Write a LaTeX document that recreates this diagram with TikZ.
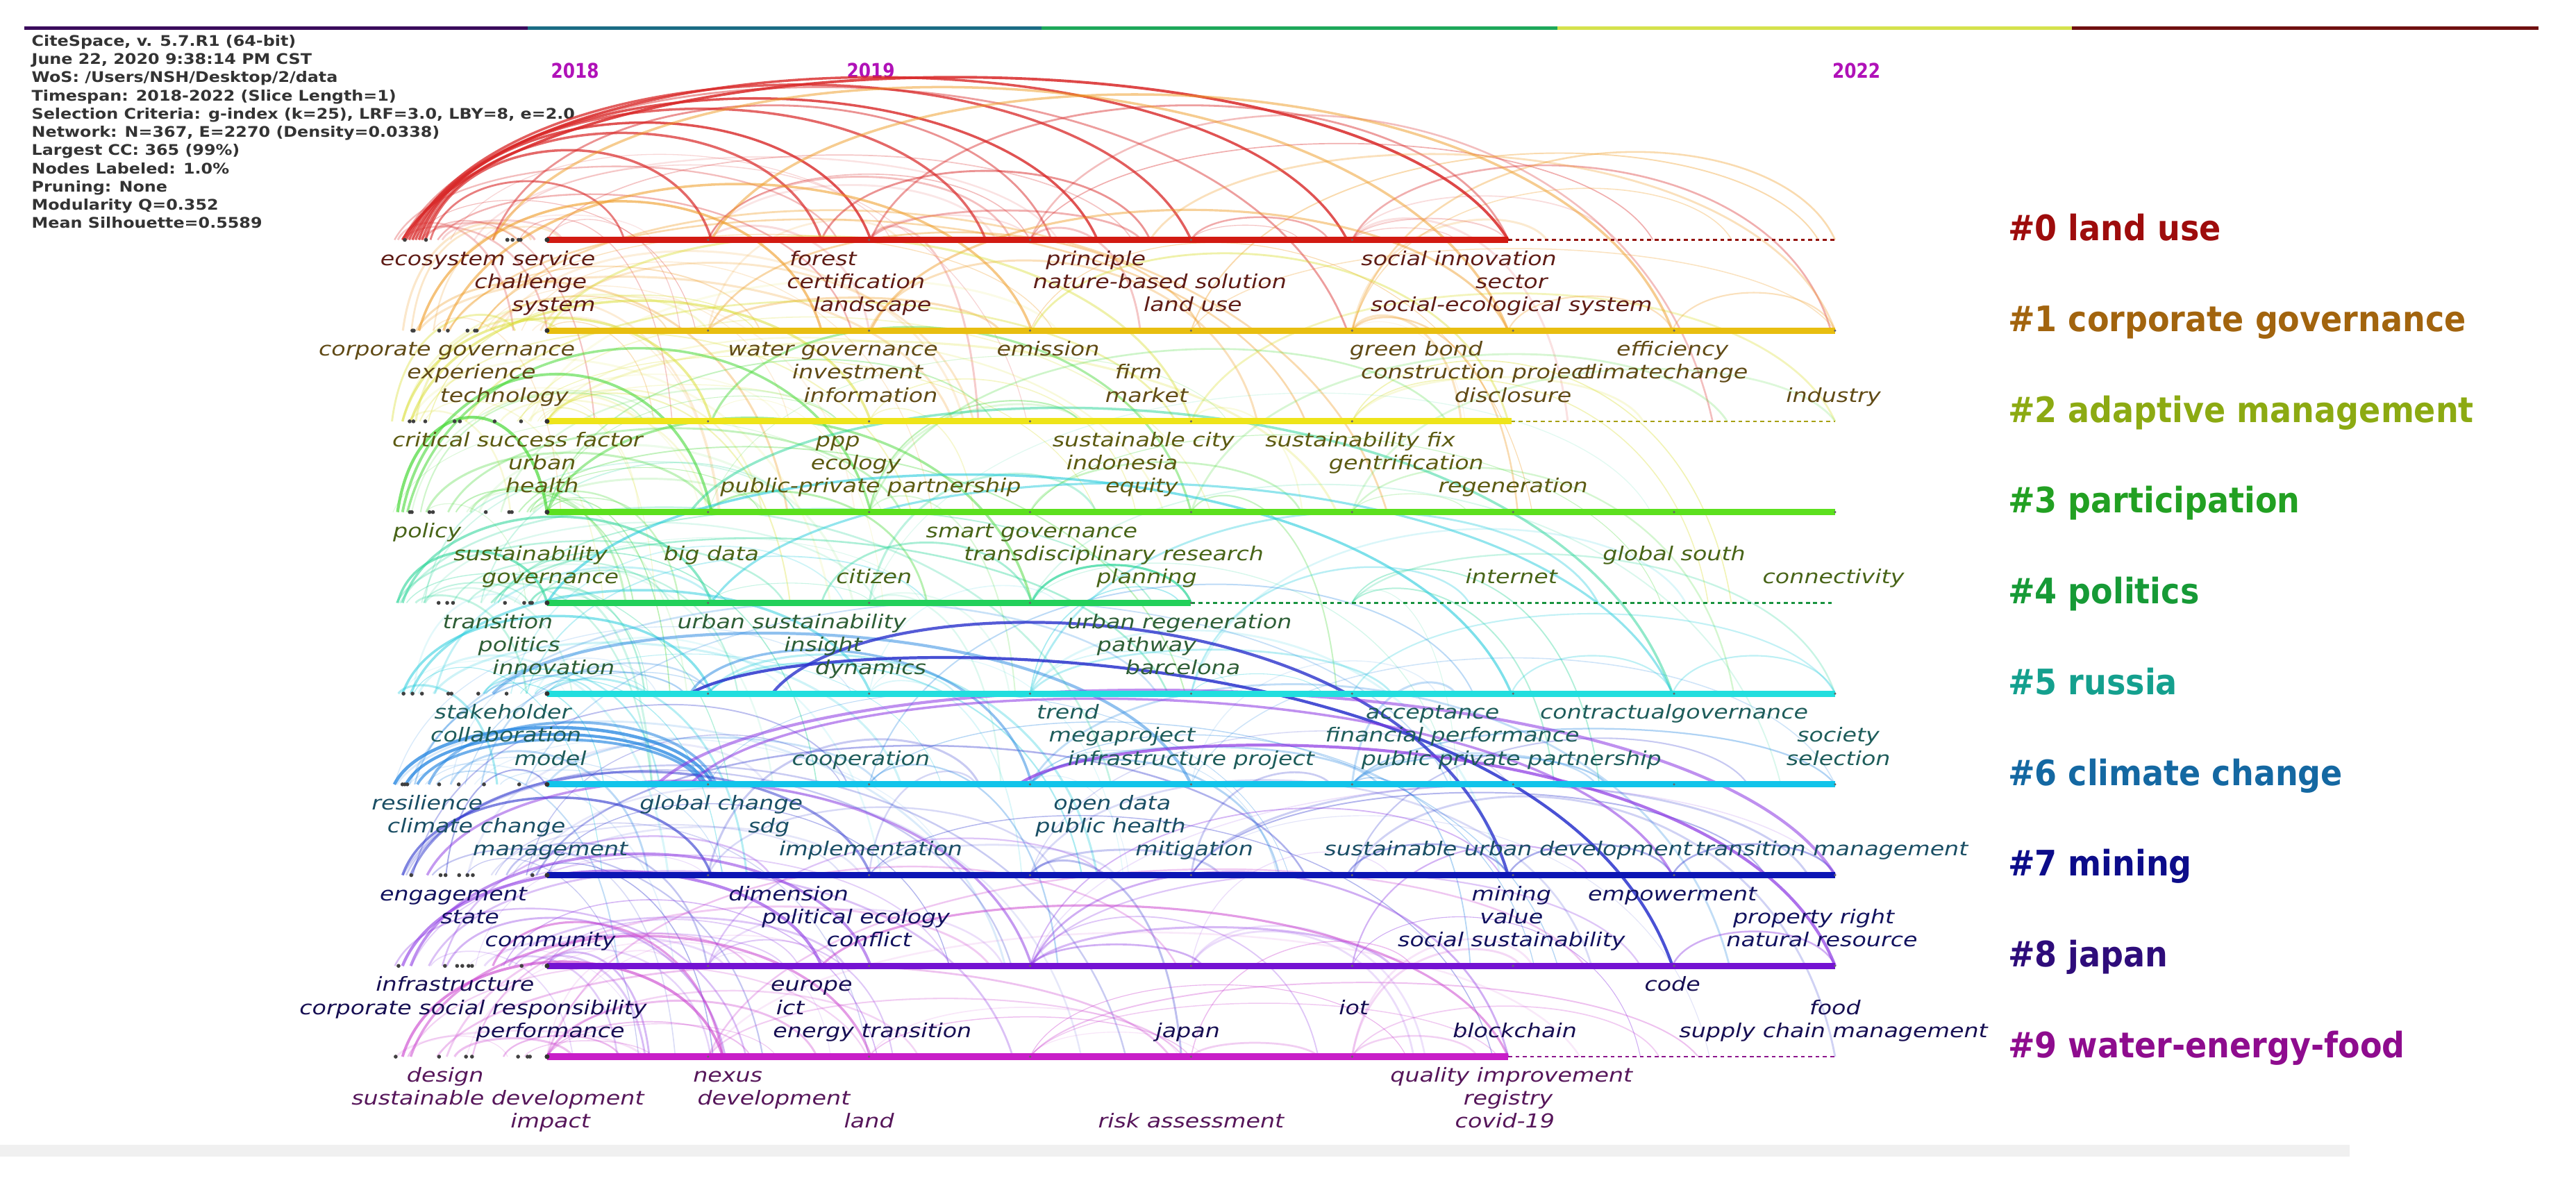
\documentclass[tikz,border=0pt]{standalone}
\usepackage{fontspec}
\setmainfont{DejaVu Sans}
\newfontfamily\lblfont{DejaVu Sans}[FakeStretch=1.2]
\newfontfamily\infofont{DejaVu Sans}[FakeStretch=1.13]
\newfontfamily\yrfont{DejaVu Sans}[FakeStretch=0.85]
\newfontfamily\clfont{DejaVu Sans}[FakeStretch=0.91]
\definecolor{bar1}{HTML}{3A0B5C}
\definecolor{bar2}{HTML}{1B6C85}
\definecolor{bar3}{HTML}{1EA85A}
\definecolor{bar4}{HTML}{D5E24C}
\definecolor{bar5}{HTML}{701010}
\definecolor{yrc}{HTML}{B012B8}
\definecolor{ln0}{HTML}{D21A12}\definecolor{ln1}{HTML}{E8BE10}\definecolor{ln2}{HTML}{EEE41A}
\definecolor{ln3}{HTML}{5CE01E}\definecolor{ln4}{HTML}{22D05A}\definecolor{ln5}{HTML}{22DEDE}
\definecolor{ln6}{HTML}{12C4EA}\definecolor{ln7}{HTML}{0C16B4}\definecolor{ln8}{HTML}{7412D2}
\definecolor{ln9}{HTML}{C81EC8}
\definecolor{arc0}{HTML}{D82828}\definecolor{arc1}{HTML}{EE9A22}\definecolor{arc2}{HTML}{D8DC2A}
\definecolor{arc3}{HTML}{48D838}\definecolor{arc4}{HTML}{26D496}\definecolor{arc5}{HTML}{26CCDC}
\definecolor{arc6}{HTML}{2284E0}\definecolor{arc7}{HTML}{2A32CC}\definecolor{arc8}{HTML}{8A34E2}
\definecolor{arc9}{HTML}{C83ACC}
\definecolor{cl0}{HTML}{9E0C0C}\definecolor{cl1}{HTML}{A2640E}\definecolor{cl2}{HTML}{8CAA12}
\definecolor{cl3}{HTML}{22A022}\definecolor{cl4}{HTML}{169A36}\definecolor{cl5}{HTML}{14A08E}
\definecolor{cl6}{HTML}{1468A2}\definecolor{cl7}{HTML}{0C0C8A}\definecolor{cl8}{HTML}{2E0C7A}
\definecolor{cl9}{HTML}{8E0C8E}
\definecolor{tx0}{HTML}{5E1C16}\definecolor{tx1}{HTML}{604A16}\definecolor{tx2}{HTML}{5C5A12}
\definecolor{tx3}{HTML}{486418}\definecolor{tx4}{HTML}{2E5E36}\definecolor{tx5}{HTML}{1E5C5A}
\definecolor{tx6}{HTML}{1A4E64}\definecolor{tx7}{HTML}{12125E}\definecolor{tx8}{HTML}{160E52}
\definecolor{tx9}{HTML}{56165A}
\tikzstyle{lbl} = [font=\lblfont\itshape\fontsize{7.9}{8}\selectfont, anchor=base, inner sep=0pt]
\tikzstyle{clab} = [font=\clfont\bfseries\fontsize{14.4}{15}\selectfont, anchor=base west, inner sep=0pt]
\tikzstyle{info} = [font=\infofont\bfseries\fontsize{6}{7}\selectfont, text=black!80, anchor=base west, inner sep=0pt]
\tikzstyle{yr} = [font=\yrfont\bfseries\fontsize{8.3}{9}\selectfont, text=yrc, inner sep=0pt]
\tikzstyle{tline} = [line width=2.6pt]
\tikzstyle{dline} = [line width=0.7pt, dash pattern=on 1.6pt off 1.4pt]
\tikzstyle{arcln} = [line width=0.6pt]
\tikzstyle{nodedot} = [circle, fill=black!80, inner sep=0pt, minimum size=2pt]

\begin{document}
\begin{tikzpicture}[x=0.02366cm, y=-0.02366cm]
\useasboundingbox (0,0) rectangle (1568,720);
\fill[black!6] (0,697) rectangle (1430,704);

\foreach \xa/\xb/\cl [count=\n] in {15/321/bar1, 321/634/bar2, 634/948/bar3, 948/1261/bar4, 1261/1545/bar5}{
  \coordinate (b\n) at (\xa,17);
  \coordinate (bb\n) at (\xb,17);
  \draw[line width=1.5pt, draw=\cl] (b\n) -- (bb\n);
}

\foreach \t [count=\n] in {{CiteSpace, v. 5.7.R1 (64-bit)},{June 22, 2020 9:38:14 PM CST},{WoS: /Users/NSH/Desktop/2/data},{Timespan: 2018-2022 (Slice Length=1)},{Selection Criteria: g-index (k=25), LRF=3.0, LBY=8, e=2.0},{Network: N=367, E=2270 (Density=0.0338)},{Largest CC: 365 (99\%)},{Nodes Labeled: 1.0\%},{Pruning: None},{Modularity Q=0.352},{Mean Silhouette=0.5589}}
  \node[info] (info\n) at (19,16.9+11.1*\n) {\t};

\node[yr] (y2018) at (350,43) {2018};
\node[yr] (y2019) at (530,43) {2019};
\node[yr] (y2022) at (1130,43) {2022};

\pgfmathsetseed{4217}
\foreach \rw in {0,...,9}{
  \foreach \q in {1,...,32}{
    \pgfmathsetmacro\ya{146+55.25*\rw}
    \pgfmathsetmacro\xa{rnd<0.5 ? 238+92*rnd : 333+98*int(6*rnd)}
    \pgfmathtruncatemacro\rb{min(9,max(0,\rw+int(4*rnd)-1))}
    \pgfmathsetmacro\yb{146+55.25*\rb}
    \pgfmathsetmacro\xb{min(1117,\xa+60+560*rnd*rnd)}
    \pgfmathsetmacro\hh{min((\xb-\xa)*(0.1+0.1*rnd),(min(\ya,\yb)-30)/1.05)}
    \pgfmathsetmacro\yt{min(\ya,\yb)-1.4*\hh}
    \pgfmathsetmacro\ca{\xa+0.12*(\xb-\xa)}
    \pgfmathsetmacro\cb{\xb-0.12*(\xb-\xa)}
    \pgfmathsetmacro\opa{0.1+0.3*rnd}
    \pgfmathsetmacro\lw{0.3+0.6*rnd}
    \draw[arcln, draw=arc\rw, opacity=\opa, line width=\lw pt] (\xa,\ya) .. controls (\ca,\yt) and (\cb,\yt) .. (\xb,\yb);
  }
}

\foreach \xa/\ra/\xb/\rb/\hh/\cl/\opa/\lw in {
  245/0/918/0/123/arc0/0.85/1.1, 247/0/820/0/104/arc0/0.8/1.0, 249/0/725/0/90/arc0/0.75/1.0,
  251/0/668/0/82/arc0/0.8/1.0, 253/0/600/0/76/arc0/0.7/1.0, 255/0/530/0/68/arc0/0.8/1.0,
  257/0/500/0/62/arc0/0.7/1.0, 259/0/433/0/52/arc0/0.7/1.0, 262/0/380/0/34/arc0/0.6/0.8,
  300/0/640/0/78/arc0/0.5/0.8, 500/0/700/0/40/arc0/0.5/0.8, 530/0/918/0/78/arc0/0.45/0.8,
  245/0/820/1/100/arc0/0.45/0.8,
  255/1/500/1/75/arc1/0.6/1.0, 270/1/628/1/85/arc1/0.55/1.0, 300/0/918/1/95/arc1/0.5/1.0,
  433/0/1018/1/90/arc1/0.5/1.0, 530/1/918/1/70/arc1/0.45/0.9, 700/0/1117/1/55/arc1/0.3/0.8,
  918/1/1018/1/20/arc1/0.3/0.6, 1018/1/1117/1/22/arc1/0.3/0.6,
  245/2/433/2/60/arc2/0.5/1.0, 250/2/530/2/70/arc2/0.5/1.0, 333/1/725/2/60/arc2/0.4/0.9,
  628/1/918/2/50/arc2/0.4/0.8,
  242/3/333/3/55/arc3/0.7/1.2, 245/3/433/3/80/arc3/0.6/1.1, 248/3/530/3/95/arc3/0.55/1.0,
  333/3/628/4/60/arc3/0.5/1.0, 433/2/725/3/60/arc3/0.45/0.9,
  242/4/333/4/30/arc4/0.6/1.0, 245/4/433/4/50/arc4/0.55/1.0, 628/4/725/4/22/arc4/0.7/0.9,
  500/4/628/4/35/arc4/0.4/0.8, 420/3/1018/5/70/arc4/0.5/1.0,
  245/5/433/5/45/arc5/0.55/1.0, 250/5/530/5/60/arc5/0.5/1.0, 333/4/920/5/80/arc5/0.6/1.0,
  433/4/1018/5/75/arc5/0.5/0.9, 920/5/1018/5/22/arc5/0.3/0.6, 1018/5/1117/5/22/arc5/0.3/0.6,
  240/6/434/6/33/arc6/0.75/1.3, 247/6/430/6/29/arc6/0.75/1.2, 254/6/428/6/26/arc6/0.65/1.1,
  261/6/436/6/36/arc6/0.55/1.1, 300/5/725/6/40/arc6/0.5/1.2, 420/5/628/6/30/arc6/0.5/1.0,
  420/5/1018/8/30/arc7/0.85/1.2, 470/5/918/7/50/arc7/0.8/1.2, 620/6/1117/8/30/arc8/0.7/1.2,
  245/7/433/7/45/arc7/0.6/1.0, 250/7/530/7/60/arc7/0.5/1.0, 820/7/918/7/18/arc7/0.4/0.7,
  918/7/1018/7/18/arc7/0.4/0.7, 1018/7/1117/7/18/arc7/0.4/0.7,
  245/8/500/8/55/arc8/0.6/1.2, 250/8/530/8/65/arc8/0.55/1.1, 260/7/628/8/60/arc8/0.5/1.0,
  400/6/1117/7/60/arc8/0.55/1.2, 420/6/1018/7/55/arc8/0.55/1.0, 1018/8/1117/8/20/arc8/0.4/0.7,
  245/9/440/9/55/arc9/0.6/1.1, 250/9/530/9/70/arc9/0.5/1.0, 300/8/440/9/30/arc9/0.5/0.9,
  500/8/918/9/40/arc9/0.5/0.9, 628/8/918/9/60/arc8/0.4/0.8}{
  \pgfmathsetmacro\ya{146+55.25*\ra}
  \pgfmathsetmacro\yb{146+55.25*\rb}
  \pgfmathsetmacro\yt{max(14,min(\ya,\yb)-1.4*\hh)}
  \pgfmathsetmacro\ca{\xa+0.12*(\xb-\xa)}
  \pgfmathsetmacro\cb{\xb-0.12*(\xb-\xa)}
  \draw[arcln, draw=\cl, opacity=\opa, line width=\lw pt] (\xa,\ya) .. controls (\ca,\yt) and (\cb,\yt) .. (\xb,\yb);
}

\foreach \rw/\xe in {0/918,1/1117,2/920,3/1117,4/725,5/1117,6/1117,7/1117,8/1117,9/918}{
  \pgfmathsetmacro\ya{146+55.25*\rw}
  \coordinate (s\rw) at (333,\ya);
  \coordinate (e\rw) at (\xe,\ya);
  \coordinate (f\rw) at (1117,\ya);
  \draw[tline, draw=ln\rw] (s\rw) -- (e\rw);
  \draw[dline, draw=ln\rw!70!black] (e\rw) -- (f\rw);
  \node[nodedot] (d\rw) at (s\rw) {};
  \foreach \k in {1,...,8}{
    \pgfmathtruncatemacro\ok{(333+98*\k<=\xe) ? 1 : 0}
    \ifnum\ok=1 \fill[black!60] (333+98*\k,\ya) circle[radius=0.5pt]; \fi
  }
  \foreach \q in {1,...,7}{
    \pgfmathsetmacro\xa{240+85*rnd}
    \fill[black!75] (\xa,\ya) circle[radius=0.8pt];
  }
}

\foreach \xa/\k/\t [count=\n] in {297/0/ecosystem service, 501/0/forest, 667/0/principle, 888/0/social innovation, 323/1/challenge, 521/1/certification, 706/1/nature-based solution, 920/1/sector, 337/2/system, 531/2/landscape, 726/2/land use, 920/2/social-ecological system}
  \node[lbl, text=tx0] (t0-\n) at (\xa,161.5+14*\k) {\t};
\foreach \xa/\k/\t [count=\n] in {272/0/corporate governance, 507/0/water governance, 638/0/emission, 862/0/green bond, 1018/0/efficiency, 287/1/experience, 522/1/investment, 693/1/firm, 899/1/construction project, 1012/1/climatechange, 307/2/technology, 530/2/information, 698/2/market, 921/2/disclosure, 1116/2/industry}
  \node[lbl, text=tx1] (t1-\n) at (\xa,216.75+14*\k) {\t};
\foreach \xa/\k/\t [count=\n] in {315/0/critical success factor, 510/0/ppp, 696/0/sustainable city, 828/0/sustainability fix, 330/1/urban, 521/1/ecology, 683/1/indonesia, 856/1/gentrification, 330/2/health, 530/2/public-private partnership, 695/2/equity, 921/2/regeneration}
  \node[lbl, text=tx2] (t2-\n) at (\xa,272+14*\k) {\t};
\foreach \xa/\k/\t [count=\n] in {260/0/policy, 628/0/smart governance, 323/1/sustainability, 433/1/big data, 678/1/transdisciplinary research, 1019/1/global south, 335/2/governance, 532/2/citizen, 698/2/planning, 920/2/internet, 1116/2/connectivity}
  \node[lbl, text=tx3] (t3-\n) at (\xa,327.25+14*\k) {\t};
\foreach \xa/\k/\t [count=\n] in {303/0/transition, 482/0/urban sustainability, 718/0/urban regeneration, 316/1/politics, 501/1/insight, 698/1/pathway, 337/2/innovation, 530/2/dynamics, 720/2/barcelona}
  \node[lbl, text=tx4] (t4-\n) at (\xa,382.5+14*\k) {\t};
\foreach \xa/\k/\t [count=\n] in {306/0/stakeholder, 650/0/trend, 872/0/acceptance, 1019/0/contractualgovernance, 308/1/collaboration, 683/1/megaproject, 884/1/financial performance, 1119/1/society, 335/2/model, 524/2/cooperation, 725/2/infrastructure project, 920/2/public private partnership, 1119/2/selection}
  \node[lbl, text=tx5] (t5-\n) at (\xa,437.75+14*\k) {\t};
\foreach \xa/\k/\t [count=\n] in {260/0/resilience, 439/0/global change, 677/0/open data, 290/1/climate change, 468/1/sdg, 676/1/public health, 335/2/management, 530/2/implementation, 727/2/mitigation, 918/2/sustainable urban development, 1115/2/transition management}
  \node[lbl, text=tx6] (t6-\n) at (\xa,493+14*\k) {\t};
\foreach \xa/\k/\t [count=\n] in {276/0/engagement, 480/0/dimension, 920/0/mining, 1018/0/empowerment, 286/1/state, 521/1/political ecology, 920/1/value, 1104/1/property right, 335/2/community, 529/2/conflict, 920/2/social sustainability, 1109/2/natural resource}
  \node[lbl, text=tx7] (t7-\n) at (\xa,548.25+14*\k) {\t};
\foreach \xa/\k/\t [count=\n] in {277/0/infrastructure, 494/0/europe, 1018/0/code, 288/1/corporate social responsibility, 481/1/ict, 824/1/iot, 1117/1/food, 335/2/performance, 531/2/energy transition, 723/2/japan, 922/2/blockchain, 1116/2/supply chain management}
  \node[lbl, text=tx8] (t8-\n) at (\xa,603.5+14*\k) {\t};
\foreach \xa/\k/\t [count=\n] in {271/0/design, 443/0/nexus, 920/0/quality improvement, 303/1/sustainable development, 471/1/development, 918/1/registry, 335/2/impact, 529/2/land, 725/2/risk assessment, 916/2/covid-19}
  \node[lbl, text=tx9] (t9-\n) at (\xa,658.75+14*\k) {\t};

\foreach \rw/\t in {0/land use, 1/corporate governance, 2/adaptive management, 3/participation, 4/politics, 5/russia, 6/climate change, 7/mining, 8/japan, 9/water-energy-food}
  \node[clab, text=cl\rw] (c\rw) at (1222,146.5+55.25*\rw) {\#\rw\ \t};
\end{tikzpicture}
\end{document}
